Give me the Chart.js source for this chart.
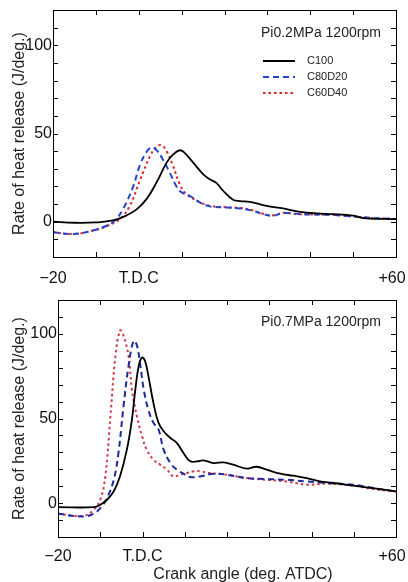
<!DOCTYPE html>
<html>
<head>
<meta charset="utf-8">
<script src="https://cdn.jsdelivr.net/npm/chart.js@4"></script>
<style>
  body { margin: 0; background: #fff; }
  #wrap { position: relative; width: 408px; height: 582px; }
  canvas { position: absolute; left: 0; }
</style>
</head>
<body>
<div id="wrap">
  <canvas id="top" width="408" height="290" style="top:0"></canvas>
  <canvas id="bottom" width="408" height="292" style="top:290px"></canvas>
</div>
<script>
const seriesNames = ["C100", "C80D20", "C60D40"];
const xTickValues = [-20, 0, 60];
const xTickText = ["\u221220", "T.D.C", "+60"];
const yTickValues = [0, 50, 100];
const topCondition = "Pi0.2MPa 1200rpm";
const bottomCondition = "Pi0.7MPa 1200rpm";
const yTitle = "Rate of heat release (J/deg.)";
const xTitle = "Crank angle (deg. ATDC)";

// Pi 0.2 MPa
const topC100X = [-20, -15, -10, -6, -3, -0.5, 1.8, 4.1, 6.5, 8, 9.6, 10.7, 12.7, 15, 16.6, 18.1, 19.7, 22, 23.6, 25.9, 29.8, 33.7, 37.6, 41.5, 45.4, 50, 53, 60];
const topC100Y = [0, -0.6, -0.4, 0.7, 3.4, 7, 12.8, 22, 33.5, 38, 40.5, 39, 33.5, 27, 24, 22, 17.5, 12.4, 11.7, 11.3, 9, 7.5, 5.6, 4.7, 4.3, 3.4, 1.9, 1.5];
const topC80X = [-20, -15.3, -10.7, -7.5, -5.6, -3.7, -1.3, 0.2, 1.8, 3, 4.1, 5.7, 7.2, 8.8, 10, 11.9, 14.2, 16.6, 20.5, 23.6, 26.7, 29, 31.4, 33.7, 37.6, 45.4, 53, 60];
const topC80Y = [-6, -7, -5, -2.3, 0.6, 7, 20, 31.6, 39.5, 42, 40.7, 35, 28, 20, 16.6, 14.7, 11, 8.7, 8.1, 7.5, 6.2, 4.3, 3.4, 4.9, 4.3, 3.8, 2.4, 1.5];
const topC60X = [-20, -15.3, -10.7, -7.5, -4.4, -2.1, 0.2, 2.6, 4.1, 5.3, 6.5, 8, 9.6, 11.1, 14.2, 16.6, 20.5, 23.6, 26.7, 29, 31.4, 33.7, 37.6, 45.4, 53, 60];
const topC60Y = [-6, -7, -5, -2.5, 1.5, 9, 23, 37, 42.5, 43.3, 40, 31.6, 21, 15.6, 11.2, 9, 8.2, 7.8, 6.4, 4.5, 3.6, 5, 4.2, 3.9, 2.3, 1.5];

// Pi 0.7 MPa
const botC100X = [-20, -11.6, -10, -8.4, -6.8, -5.3, -3.7, -2.5, -1.7, -0.9, -0.1, 0.6, 1.4, 2.6, 3.8, 5, 6.6, 8.1, 9.7, 11.3, 12.9, 14.4, 16.8, 19.2, 21.5, 24.7, 27, 29.4, 32.6, 35.7, 38.9, 42, 45.2, 49.9, 54.6, 60];
const botC100Y = [-2.4, -2.4, -1, 2, 7, 16, 31.6, 49.4, 67, 81, 86, 84, 75, 59, 47.4, 42.5, 38.5, 35.6, 29.6, 24.7, 24.7, 25.3, 23.7, 24.1, 22.7, 20.4, 21.5, 19.8, 17.4, 16.2, 14.8, 12.8, 11.9, 10.3, 8.9, 6.9];
const botC80X = [-20, -13.9, -11.6, -10, -8.4, -6.8, -5.7, -4.5, -3.3, -2.1, -1.3, -0.5, 0.3, 1.4, 2.6, 3.8, 5, 6.6, 8.1, 9.7, 11.3, 13.6, 16.8, 20, 24.7, 29.4, 34.1, 38.9, 43.6, 49.9, 54.6, 60];
const botC80Y = [-6.3, -7.9, -6.3, -3, 3, 13.8, 29.6, 57, 81, 95.8, 93, 81, 67, 55, 47.4, 43.5, 31.6, 23.7, 19.8, 17.4, 15.4, 15.8, 17.4, 16.8, 14.8, 14.2, 13.8, 12.8, 11.9, 10.9, 8.9, 6.9];
const botC60X = [-20, -13.9, -11.6, -10, -8.8, -7.6, -6.4, -5.3, -4.5, -3.3, -2.5, -1.3, -0.1, 1, 2.6, 4.2, 5.8, 7.3, 8.9, 10.5, 12.1, 13.6, 16, 20, 24.7, 29.4, 34.1, 38.9, 43.6, 49.9, 54.6, 60];
const botC60Y = [-6.3, -7.5, -4, 2, 15.8, 51, 87, 102, 99, 87, 67, 51, 39.5, 31.6, 25.7, 22.7, 19.8, 15.8, 16.8, 17.8, 18.8, 18.8, 17.8, 16.8, 14.8, 13.8, 12.8, 10.9, 11.5, 10.3, 8.3, 6.9];

const fontFamily = "'Liberation Sans', Arial, sans-serif";

function pts(xs, ys) {
    return xs.map((x, i) => ({ x: x, y: ys[i] }));
}

// box + inward tick marks on all four sides
const frameTicks = {
    id: "frameTicks",
    afterDraw(chart) {
        const { ctx, chartArea: a, scales } = chart;
        ctx.save();
        ctx.strokeStyle = "#000";
        ctx.lineWidth = 1;
        ctx.strokeRect(a.left + 0.5, a.top + 0.5, a.right - a.left, a.bottom - a.top);
        const len = 5;
        for (let v = -20; v <= 60; v += 10) {
            const px = Math.round(scales.x.getPixelForValue(v)) + 0.5;
            ctx.beginPath();
            ctx.moveTo(px, a.bottom); ctx.lineTo(px, a.bottom - len);
            ctx.moveTo(px, a.top); ctx.lineTo(px, a.top + len);
            ctx.stroke();
        }
        for (let v = -20; v <= 120; v += 10) {
            const py = Math.round(scales.y.getPixelForValue(v)) + 0.5;
            ctx.beginPath();
            ctx.moveTo(a.left, py); ctx.lineTo(a.left + len, py);
            ctx.moveTo(a.right, py); ctx.lineTo(a.right - len, py);
            ctx.stroke();
        }
        ctx.restore();
    }
};

// condition text, line legend and x title
const notes = {
    id: "notes",
    afterDraw(chart, args, opts) {
        const { ctx, chartArea: a } = chart;
        ctx.save();
        ctx.fillStyle = "#222";
        ctx.font = "14px " + fontFamily;
        ctx.textBaseline = "middle";
        ctx.fillText(opts.condition, a.left + opts.condX, a.top + opts.condY);
        if (opts.legend) {
            ctx.font = "11px " + fontFamily;
            chart.data.datasets.forEach((ds, i) => {
                const y = a.top + 51 + i * 16;
                ctx.strokeStyle = ds.borderColor;
                ctx.lineWidth = 2;
                ctx.setLineDash(ds.borderDash || []);
                ctx.beginPath();
                ctx.moveTo(a.left + 210, y);
                ctx.lineTo(a.left + 242, y);
                ctx.stroke();
                ctx.setLineDash([]);
                ctx.fillStyle = "#222";
                ctx.fillText(ds.label, a.left + 254, y);
            });
        }
        if (opts.xTitle) {
            ctx.font = "16px " + fontFamily;
            ctx.textAlign = "center";
            ctx.fillStyle = "#222";
            ctx.fillText(opts.xTitle, a.left + 185, a.bottom + 38);
        }
        ctx.restore();
    }
};

function makeChart(canvasId, cfg) {
    const datasets = [
        { label: seriesNames[0], data: pts(cfg.x[0], cfg.y[0]), borderColor: "#000000", borderWidth: 1.8 },
        { label: seriesNames[1], data: pts(cfg.x[1], cfg.y[1]), borderColor: cfg.blue, borderWidth: 2, borderDash: [6, 4] },
        { label: seriesNames[2], data: pts(cfg.x[2], cfg.y[2]), borderColor: cfg.red, borderWidth: 2, borderDash: [2.5, 3] }
    ].map(d => Object.assign(d, { showLine: true, pointRadius: 0, tension: 0.4, fill: false }));

    return new Chart(document.getElementById(canvasId), {
        type: "scatter",
        data: { datasets: datasets },
        options: {
            responsive: false,
            animation: { duration: 0 },
            layout: { padding: { top: 10, right: 12, left: 0, bottom: 0 } },
            plugins: {
                legend: { display: false },
                tooltip: { enabled: false },
                notes: { condition: cfg.condition, condX: cfg.condX, condY: cfg.condY, legend: cfg.legend, xTitle: cfg.xTitle }
            },
            scales: {
                x: {
                    type: "linear",
                    min: -20,
                    max: 60,
                    grid: { display: false, drawTicks: false, tickLength: 0 },
                    border: { display: false },
                    afterBuildTicks: s => { s.ticks = xTickValues.map(v => ({ value: v })); },
                    afterFit: s => { s.height = cfg.xAxisHeight; s.paddingLeft = 0; s.paddingRight = 0; },
                    ticks: {
                        color: "#111",
                        padding: cfg.xTickPad,
                        maxRotation: 0,
                        autoSkip: false,
                        font: { family: fontFamily, size: 16 },
                        // the last label sits a little inside the frame edge
                        callback: v => {
                            const i = xTickValues.indexOf(v);
                            return i === xTickValues.length - 1 ? xTickText[i] + "\u2002" : xTickText[i];
                        }
                    }
                },
                y: {
                    min: -20,
                    max: 120,
                    grid: { display: false, drawTicks: false, tickLength: 0 },
                    border: { display: false },
                    afterBuildTicks: s => { s.ticks = yTickValues.map(v => ({ value: v })); },
                    afterFit: s => { s.width = cfg.yAxisWidth; s.paddingTop = 0; s.paddingBottom = 0; },
                    ticks: {
                        color: "#111",
                        padding: 1,
                        font: { family: fontFamily, size: 16 }
                    },
                    title: {
                        display: true,
                        text: yTitle,
                        color: "#222",
                        padding: { top: 10, bottom: 0 },
                        font: { family: fontFamily, size: 16 }
                    }
                }
            }
        },
        plugins: [frameTicks, notes]
    });
}

makeChart("top", {
    x: [topC100X, topC80X, topC60X],
    y: [topC100Y, topC80Y, topC60Y],
    blue: "#2246d0",
    red: "#e02525",
    condition: topCondition,
    condX: 208,
    condY: 23,
    legend: true,
    yAxisWidth: 53,
    xAxisHeight: 33,
    xTickPad: 12
});

makeChart("bottom", {
    x: [botC100X, botC80X, botC60X],
    y: [botC100Y, botC80Y, botC60Y],
    blue: "#1c2a9c",
    red: "#d03a48",
    condition: bottomCondition,
    condX: 203,
    condY: 22,
    legend: false,
    xTitle: xTitle,
    yAxisWidth: 58,
    xAxisHeight: 45,
    xTickPad: 10
});
</script>
</body>
</html>
